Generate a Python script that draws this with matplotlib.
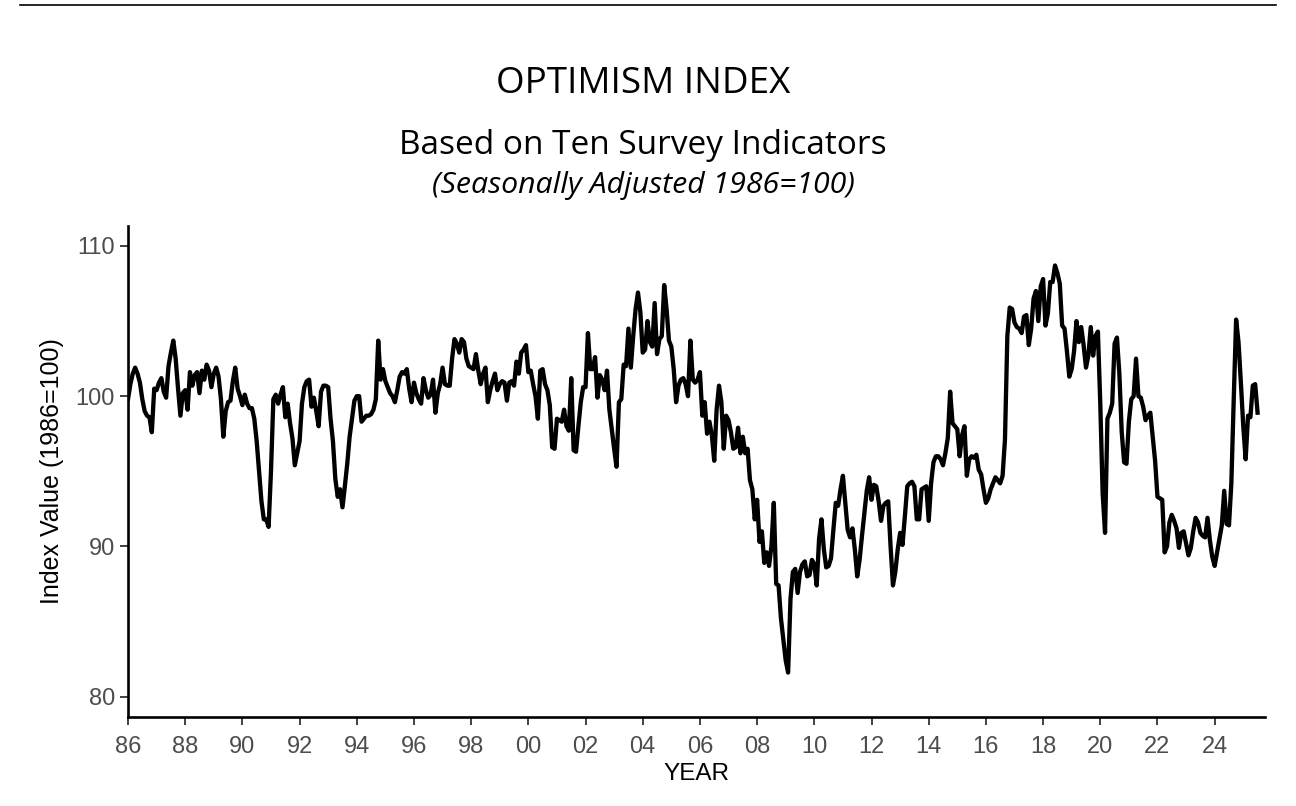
import numpy as np
import matplotlib
matplotlib.use("Agg")
import matplotlib.pyplot as plt
from matplotlib.lines import Line2D

start_year = 1986

vals_1986_1989 = [
    99.8, 100.8, 101.5, 101.9, 101.5, 100.9, 99.8, 99.0, 98.7, 98.6, 97.6, 100.5,
    100.4, 100.9, 101.2, 100.3, 99.9, 102.0, 102.9, 103.7, 102.5, 100.5, 98.7, 100.2,
    100.4, 99.1, 101.6, 100.7, 101.4, 101.6, 100.2, 101.7, 101.1, 102.1, 101.7, 100.6,
    101.5, 101.9, 101.3, 99.8, 97.3, 99.0, 99.6, 99.7, 101.0, 101.9, 100.5, 100.0,
]
vals_1990_1999 = [
    99.4, 100.1, 99.5, 99.2, 99.2, 98.5, 97.0, 95.0, 93.0, 91.8, 91.8, 91.3,
    95.0, 99.8, 100.1, 99.5, 100.1, 100.6, 98.6, 99.5, 98.2, 97.2, 95.4, 96.2,
    97.0, 99.5, 100.6, 101.0, 101.1, 99.3, 99.9, 99.0, 98.0, 100.3, 100.7, 100.7,
    100.6, 98.5, 97.0, 94.5, 93.3, 93.8, 92.6, 94.0, 95.5, 97.3, 98.5, 99.7,
    100.0, 100.0, 98.3, 98.5, 98.7, 98.7, 98.8, 99.1, 99.8, 103.7, 101.1, 101.8,
    101.0, 100.6, 100.2, 100.0, 99.6, 100.4, 101.3, 101.6, 101.5, 101.8, 100.5, 99.6,
    100.9, 100.2, 99.8, 99.5, 101.2, 100.4, 99.9, 100.1, 101.1, 98.9, 100.2, 100.8,
    101.9, 100.8, 100.7, 100.7, 102.5, 103.8, 103.5, 102.9, 103.8, 103.6, 102.5, 102.0,
    101.9, 101.8, 102.8, 101.7, 100.8, 101.5, 101.9, 99.6, 100.4, 101.0, 101.5, 100.4,
    100.8, 101.0, 100.9, 99.7, 100.9, 101.0, 100.7, 102.3, 101.5, 102.9, 103.1, 103.4,
]
vals_2000_2009 = [
    101.6, 101.7, 100.8, 100.0, 98.5, 101.7, 101.8, 100.8, 100.4, 99.4, 96.6, 96.5,
    98.5, 98.4, 98.3, 99.1, 98.0, 97.7, 101.2, 96.4, 96.3, 98.0, 99.6, 100.6,
    100.6, 104.2, 101.8, 101.8, 102.6, 99.9, 101.4, 101.1, 100.4, 101.7, 99.1, 97.8,
    96.5, 95.3, 99.6, 99.8, 102.1, 102.0, 104.5, 101.9, 104.0, 105.8, 106.9, 105.6,
    102.9, 103.1, 105.0, 103.6, 103.3, 106.2, 102.8, 103.8, 104.0, 107.4, 105.8, 103.7,
    103.3, 101.8, 99.6, 100.7, 101.1, 101.2, 100.8, 100.0, 103.7, 101.1, 100.9, 101.1,
    101.6, 98.7, 99.6, 97.5, 98.3, 97.4, 95.7, 99.1, 100.7, 99.6, 96.5, 98.7,
    98.4, 97.6, 96.5, 96.6, 97.9, 96.2, 97.3, 96.2, 96.5, 94.4, 93.8, 91.8,
    93.1, 90.3, 91.0, 88.9, 89.6, 88.7, 90.0, 92.9, 87.5, 87.4, 85.2, 83.8,
    82.4, 81.6, 86.5, 88.3, 88.5, 86.9, 88.3, 88.8, 89.0, 88.0, 88.1, 89.1,
]
vals_2010_2019 = [
    88.8, 87.4, 90.5, 91.8, 89.8, 88.6, 88.7, 89.2, 91.1, 92.9, 92.7, 93.8,
    94.7, 92.9, 91.1, 90.6, 91.2, 89.8, 88.0, 89.1, 90.7, 92.2, 93.7, 94.6,
    93.1, 94.1, 94.0, 93.0, 91.7, 92.7, 92.9, 93.0, 90.0, 87.4, 88.3, 89.8,
    90.9, 90.1, 92.0, 94.0, 94.2, 94.3, 94.0, 91.8, 91.8, 93.8, 93.9, 94.0,
    91.7, 94.2, 95.6, 96.0, 96.0, 95.8, 95.4, 96.2, 97.2, 100.3, 98.2, 98.0,
    97.8, 96.0, 97.4, 98.0, 94.7, 95.8, 96.0, 95.9, 96.1, 95.1, 94.8, 93.8,
    92.9, 93.2, 93.8, 94.2, 94.6, 94.4, 94.2, 94.7, 97.1, 104.0, 105.9, 105.8,
    104.9, 104.6, 104.5, 104.2, 105.3, 105.4, 103.4, 104.5, 106.5, 107.0, 105.0, 107.3,
    107.8, 104.7, 105.5, 107.6, 107.6, 108.7, 108.2, 107.5, 104.7, 104.5, 103.0, 101.3,
    101.8, 103.0, 105.0, 103.6, 104.6, 103.4, 101.9, 102.7, 104.6, 102.7, 104.0, 104.3,
]
vals_2020_2025 = [
    99.5, 93.5, 90.9, 98.5, 98.9, 99.5, 103.5, 103.9, 101.5, 97.6, 95.6, 95.5,
    98.3, 99.8, 100.0, 102.5, 100.0, 99.9, 99.3, 98.4, 98.7, 98.9, 97.3, 95.7,
    93.3, 93.2, 93.1, 89.6, 90.0, 91.6, 92.1, 91.7, 91.2, 89.9, 90.9, 91.0,
    90.2, 89.4, 89.9, 91.0, 91.9, 91.6, 90.9, 90.7, 90.6, 91.9, 90.4, 89.3,
    88.7, 89.6, 90.5, 91.4, 93.7, 91.5, 91.4, 94.2, 99.8, 105.1, 103.6, 100.9,
    98.0, 95.8, 98.7, 98.6, 100.7, 100.8, 98.9,
]

x_ticks = list(range(1986, 2025, 2))
x_tick_labels = [f"{y % 100:02d}" for y in x_ticks]
y_ticks = [80, 90, 100, 110]

values = np.array(vals_1986_1989 + vals_1990_1999 + vals_2000_2009
                  + vals_2010_2019 + vals_2020_2025)
years = start_year + np.arange(len(values)) / 12.0

W, H = 1296, 806
fig = plt.figure(figsize=(W / 100, H / 100), dpi=100)
fig.patch.set_facecolor("white")

ax = fig.add_axes([128 / W, 1 - 717 / H, (1265 - 128) / W, (717 - 226) / H])
ax.plot(years, values, color="black", lw=3.1, solid_joinstyle="round")

ax.set_xlim(1986, 2025.76)
ax.set_ylim(78.64, 111.33)
ax.set_xticks(x_ticks)
ax.set_xticklabels(x_tick_labels)
ax.set_yticks(y_ticks)

for s in ["top", "right"]:
    ax.spines[s].set_visible(False)
for s in ["left", "bottom"]:
    ax.spines[s].set_linewidth(1.9)
    ax.spines[s].set_color("black")

ax.tick_params(axis="both", which="major", length=5.5, width=1.3, color="#333333",
               labelcolor="#4d4d4d", labelsize=17)
ax.tick_params(axis="x", pad=8)
ax.tick_params(axis="y", pad=4)
for lab in ax.get_xticklabels() + ax.get_yticklabels():
    lab.set_fontfamily("Liberation Sans")

ax.set_xlabel("YEAR", fontsize=17.5, family="Liberation Sans", color="black", labelpad=4)
ax.set_ylabel("Index Value (1986=100)", fontsize=18, family="Liberation Sans",
              color="black", labelpad=8)

cx = 643 / W
fig.text(cx, 1 - 84 / H, "OPTIMISM INDEX", ha="center", va="center",
         fontsize=26.5, family="Open Sans", color="black")
fig.text(cx, 1 - 146 / H, "Based on Ten Survey Indicators", ha="center", va="center",
         fontsize=24, family="Open Sans", color="black")
fig.text(cx, 1 - 185 / H, "(Seasonally Adjusted 1986=100)", ha="center", va="center",
         fontsize=21.8, family="Open Sans", style="italic", color="black")

fig.add_artist(Line2D([20 / W, 1276 / W], [1 - 5 / H, 1 - 5 / H], color="black", lw=1.2,
                      transform=fig.transFigure))

fig.savefig("out.png", dpi=100, facecolor="white")
